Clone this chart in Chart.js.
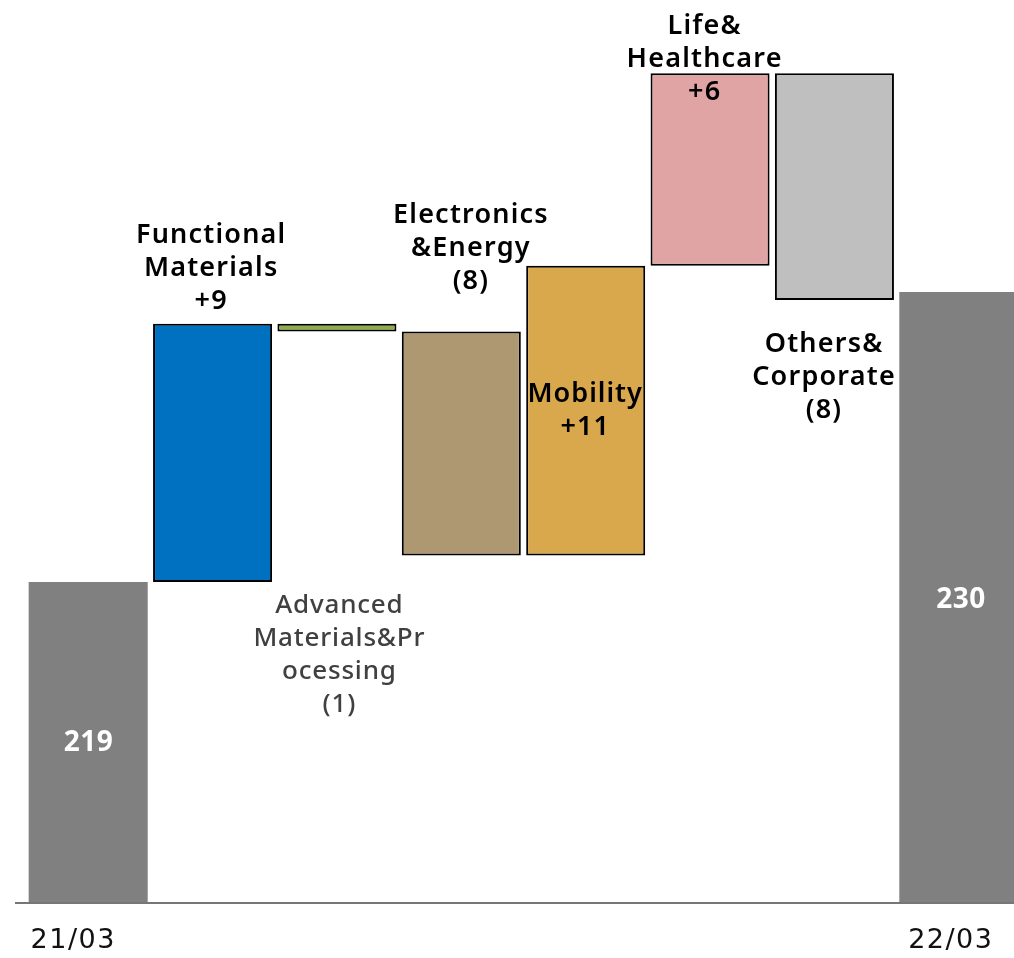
<!DOCTYPE html>
<html>
<head>
<meta charset="utf-8">
<script src="https://cdn.jsdelivr.net/npm/chart.js@4.4.0/dist/chart.umd.min.js"></script>
<style>
  html, body { margin: 0; padding: 0; background: #fff; overflow: hidden; }
  #wrap { position: relative; width: 1030px; height: 958px; }
</style>
</head>
<body>
<div id="wrap"><canvas id="waterfall"></canvas></div>
<script>
// ===== Data =====
const categories = ["21/03", "Functional Materials", "Advanced Materials&Processing",
  "Electronics&Energy", "Mobility", "Life&Healthcare", "Others&Corporate", "22/03"];
const startTotal = 219;
const endTotal = 230;
// change of each segment
const deltas = [9.8, -0.3, -8.5, 11.0, 7.3, -8.6];
const tickLabels = ["21/03", "", "", "", "", "", "", "22/03"];
const barLabels = [
  ["219"],
  ["Functional", "Materials", "+9"],
  ["Advanced", "Materials&Pr", "ocessing", "(1)"],
  ["Electronics", "&Energy", "(8)"],
  ["Mobility", "+11"],
  ["Life&", "Healthcare", "+6"],
  ["Others&", "Corporate", "(8)"],
  ["230"]
];

const barColors = ["#808080", "#0070C0", "#8FAE4A", "#AE9872", "#DAA84C", "#E0A4A4", "#BFBFBF", "#808080"];
const axisMin = 206.82;
const axisMax = 241.08;

// build floating ranges for the waterfall
const ranges = [[axisMin, startTotal]];
let running = startTotal;
deltas.forEach(d => {
  ranges.push([running, running + d]);
  running += d;
});
ranges.push([axisMin, endTotal]);

// where each label sits relative to its bar
const labelLayout = [
  { anchor: "middle", dy: 1, dx: 0, color: "#ffffff", weight: "bold", size: 28, ls: 0.5 },
  { anchor: "aboveTop", dy: -22, dx: -2, color: "#000000", weight: "600", size: 27, ls: 1.2 },
  { anchor: "belowBottom", dy: 274, dx: 2, color: "#404040", weight: "500", size: 26, ls: 0.8 },
  { anchor: "aboveTop", dy: -50, dx: 9, color: "#000000", weight: "600", size: 27, ls: 1.2 },
  { anchor: "middle", dy: 0, dx: -1, color: "#000000", weight: "600", size: 27, ls: 1 },
  { anchor: "aboveTop", dy: 19, dx: -6, color: "#000000", weight: "600", size: 27, ls: 1.2 },
  { anchor: "belowBottom", dy: 44, dx: -11, color: "#000000", weight: "600", size: 27, ls: 1.2 }
  ,{ anchor: "middle", dy: 3, dx: 2, color: "#ffffff", weight: "bold", size: 28, ls: 0.5 }
];
const lineGap = 33;
const tickDx = [-15, 0, 0, 0, 0, 0, 0, -8];

// ===== Labels + baseline plugin =====
const waterfallLabels = {
  id: "waterfallLabels",
  afterDatasetsDraw(chart) {
    const ctx = chart.ctx;
    const meta = chart.getDatasetMeta(0);
    const xScale = chart.scales.x;
    const yScale = chart.scales.y;

    // baseline
    const baseY = yScale.getPixelForValue(axisMin);
    ctx.save();
    ctx.strokeStyle = "#767676";
    ctx.lineWidth = 2;
    ctx.beginPath();
    ctx.moveTo(15, baseY);
    ctx.lineTo(chart.width, baseY);
    ctx.stroke();

    ctx.textAlign = "center";
    ctx.textBaseline = "middle";

    // category labels under the axis (first and last only)
    ctx.font = '27px "DejaVu Sans", sans-serif';
    ctx.fillStyle = "#111111";
    ctx.letterSpacing = "1.5px";
    tickLabels.forEach((t, i) => {
      if (!t) return;
      ctx.fillText(t, xScale.getPixelForTick(i) + tickDx[i], baseY + 38);
    });

    meta.data.forEach((bar, i) => {
      const lines = barLabels[i];
      const lay = labelLayout[i];
      const top = Math.min(bar.y, bar.base);
      const bottom = Math.max(bar.y, bar.base);
      const n = lines.length;
      let firstY;
      if (lay.anchor === "middle") {
        firstY = (top + bottom) / 2 - (n - 1) * lineGap / 2 + lay.dy;
      } else if (lay.anchor === "aboveTop") {
        firstY = top + lay.dy - (n - 1) * lineGap;
      } else {
        firstY = bottom + lay.dy;
      }
      ctx.font = `${lay.weight} ${lay.size}px "Noto Sans", "DejaVu Sans", sans-serif`;
      ctx.letterSpacing = lay.ls + "px";
      ctx.fillStyle = lay.color;
      lines.forEach((t, k) => {
        ctx.fillText(t, bar.x + lay.dx + lay.ls / 2, firstY + k * lineGap);
      });
    });
    ctx.restore();
  }
};

const borderWidths = barColors.map((c, i) => (i === 0 || i === barColors.length - 1) ? 0 : 2);

new Chart(document.getElementById("waterfall"), {
  type: "bar",
  data: {
    labels: categories,
    datasets: [{
      data: ranges,
      backgroundColor: barColors,
      borderColor: "#000000",
      borderWidth: borderWidths,
      borderSkipped: false,
      categoryPercentage: 1,
      barPercentage: 0.957
    }]
  },
  options: {
    responsive: true,
    maintainAspectRatio: false,
    animation: false,
    layout: { padding: { left: 26, right: 9, top: 0, bottom: 0 } },
    plugins: {
      legend: { display: false },
      tooltip: { enabled: false }
    },
    scales: {
      x: {
        grid: { display: false, drawTicks: false },
        border: { display: false },
        ticks: { display: false },
        afterFit: (scale) => { scale.height = 55; }
      },
      y: {
        display: false,
        min: axisMin,
        max: axisMax
      }
    }
  },
  plugins: [waterfallLabels]
});
</script>
</body>
</html>
